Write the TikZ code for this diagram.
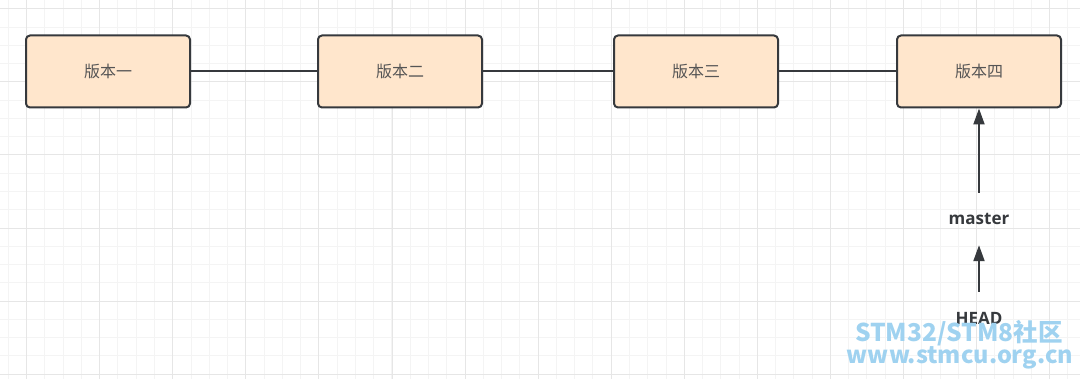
\documentclass[tikz,border=0pt]{standalone}
\usepackage{fontspec}
\setmainfont{Open Sans}
\newfontfamily\cjk{Noto Sans CJK SC}
\usetikzlibrary{arrows.meta}
\definecolor{boxfill}{HTML}{FFE6CC}
\definecolor{boxline}{HTML}{36393D}
\definecolor{gridminor}{HTML}{F4F4F4}
\definecolor{gridmajor}{HTML}{E6E6E6}
\definecolor{labelgray}{HTML}{555555}
\definecolor{wmblue}{HTML}{9FD2F0}
\tikzset{
  verbox/.style={draw=boxline, line width=2pt, fill=boxfill, rounded corners=4pt,
    minimum width=164pt, minimum height=72pt, inner sep=0pt,
    font=\cjk\fontsize{16}{18}\selectfont, text=labelgray},
  reflabel/.style={inner sep=0pt, minimum height=52pt, minimum width=70pt,
    font=\bfseries\fontsize{17}{20}\selectfont, text=boxline},
  link/.style={draw=boxline, line width=2pt},
  refarrow/.style={draw=boxline, line width=2pt, -{Triangle[length=16pt,width=11pt]}},
  wmark/.style={inner sep=0pt, text=wmblue, font=\cjk\bfseries\fontsize{24.5}{28}\selectfont}
}
\begin{document}
\begin{tikzpicture}[x=1pt,y=-1pt]
\useasboundingbox (0,0) rectangle (1080,379);
\fill[white] (0,0) rectangle (1080,379);
% grid
\foreach \i in {0,...,59} {
  \draw[gridminor, line width=1pt] ({8.3+\i*18.27},0) -- ({8.3+\i*18.27},379);
}
\foreach \i in {0,...,21} {
  \draw[gridminor, line width=1pt] (0,{8.8+\i*18.27}) -- (1080,{8.8+\i*18.27});
}
\foreach \i in {0,...,14} {
  \draw[gridmajor, line width=1pt] ({26.6+\i*73.08},0) -- ({26.6+\i*73.08},379);
}
\foreach \i in {0,...,5} {
  \draw[gridmajor, line width=1pt] (0,{8.8+\i*73.08}) -- (1080,{8.8+\i*73.08});
}
% version boxes
\node[verbox] (v1) at (108,71.5) {版本一};
\node[verbox] (v2) at (400,71.5) {版本二};
\node[verbox] (v3) at (696,71.5) {版本三};
\node[verbox] (v4) at (979,71.5) {版本四};
\draw[link] (v1) -- (v2);
\draw[link] (v2) -- (v3);
\draw[link] (v3) -- (v4);
% references
\node[reflabel] (master) at (979,219) {master};
\node[reflabel] (head) at (979,318) {HEAD};
\draw[refarrow] (master.north) -- (v4.south);
\draw[refarrow] (head.north) -- (master.south);
% watermark
\node[wmark] (wm1) at (959,333) {STM32/STM8社区};
\node[wmark, font=\cjk\bfseries\fontsize{23.5}{28}\selectfont] (wm2) at (960,358) {www.stmcu.org.cn};
\end{tikzpicture}
\end{document}
